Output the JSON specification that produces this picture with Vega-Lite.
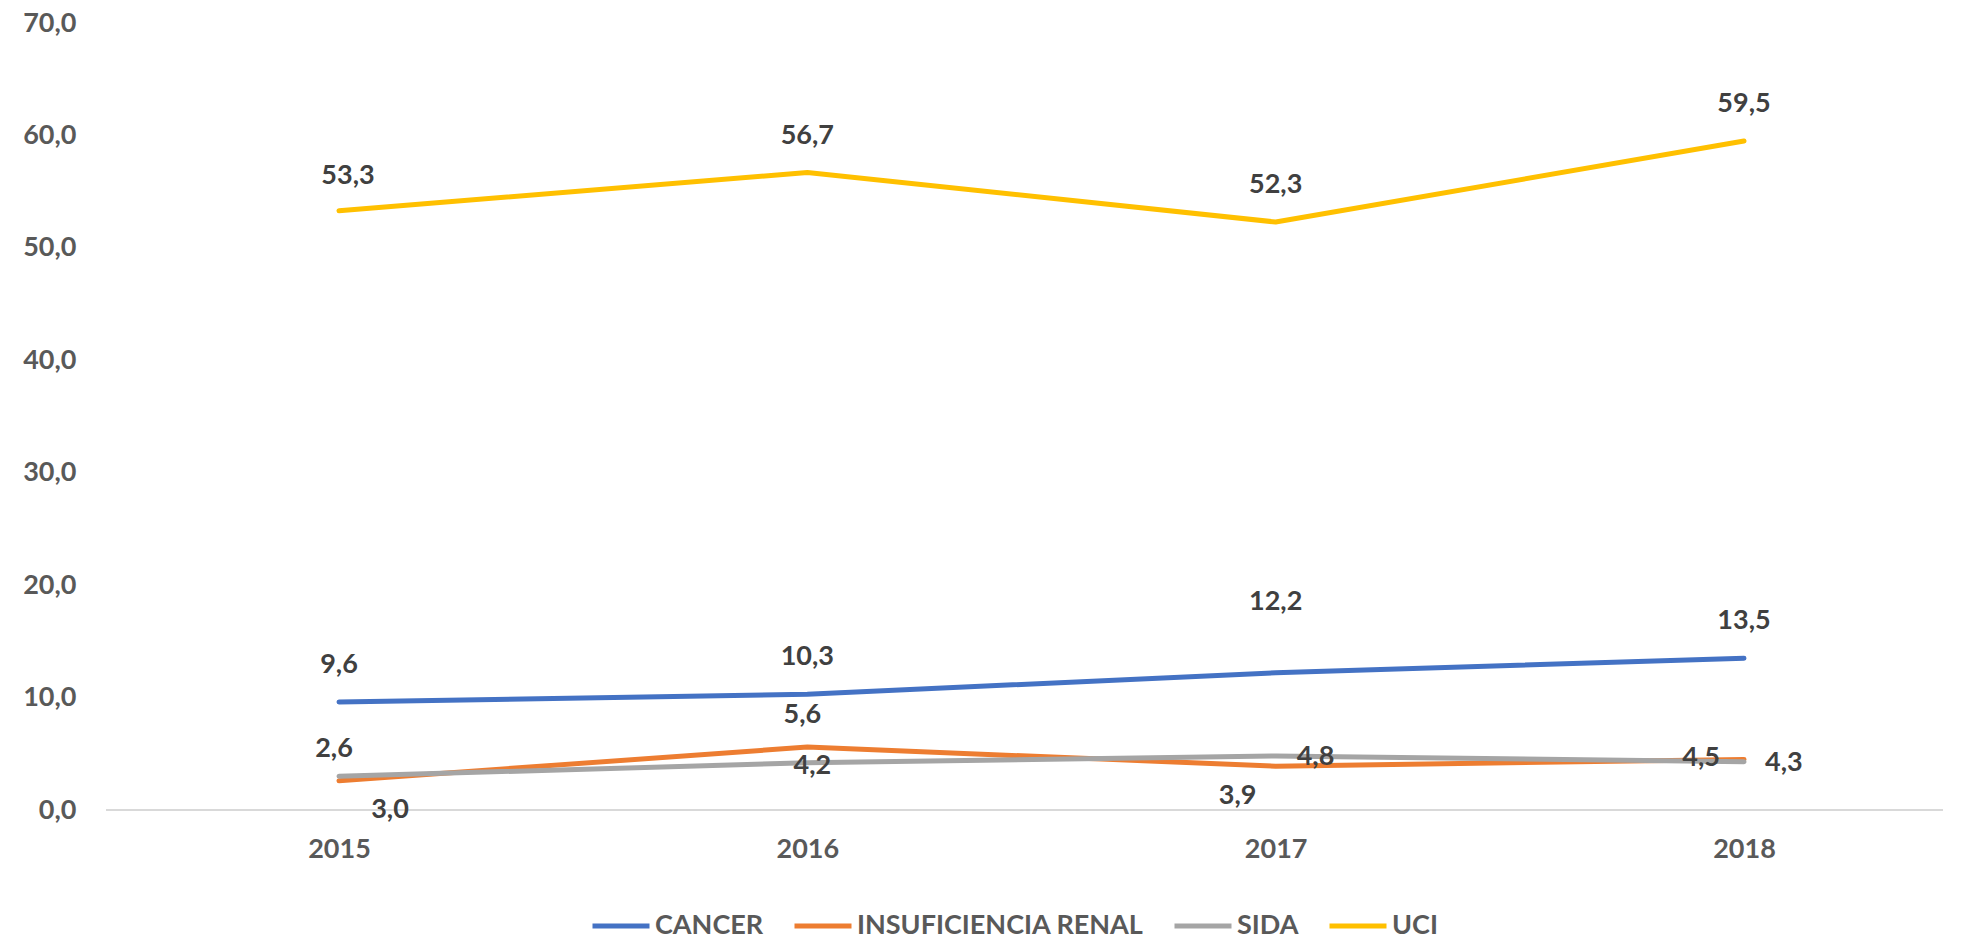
{
  "$schema": "https://vega.github.io/schema/vega-lite/v6.json",
  "width": 1837,
  "height": 787,
  "autosize": {"type": "none"},
  "padding": {"left": 106, "top": 23, "right": 23, "bottom": 130},
  "background": "white",
  "config": {
    "locale": {"number": {"decimal": ",", "thousands": ".", "grouping": [3], "currency": ["", " €"]}},
    "view": {"stroke": null},
    "font": "Lato",
    "text": {"font": "Lato", "fontSize": 27, "fontWeight": "bold", "color": "#404040", "baseline": "middle"}
  },
  "data": {
    "values": [
      {"series": "CANCER", "year": "2015", "value": 9.6},
      {"series": "CANCER", "year": "2016", "value": 10.3},
      {"series": "CANCER", "year": "2017", "value": 12.2},
      {"series": "CANCER", "year": "2018", "value": 13.5},
      {"series": "INSUFICIENCIA RENAL", "year": "2015", "value": 2.6},
      {"series": "INSUFICIENCIA RENAL", "year": "2016", "value": 5.6},
      {"series": "INSUFICIENCIA RENAL", "year": "2017", "value": 3.9},
      {"series": "INSUFICIENCIA RENAL", "year": "2018", "value": 4.5},
      {"series": "SIDA", "year": "2015", "value": 3.0},
      {"series": "SIDA", "year": "2016", "value": 4.2},
      {"series": "SIDA", "year": "2017", "value": 4.8},
      {"series": "SIDA", "year": "2018", "value": 4.3},
      {"series": "UCI", "year": "2015", "value": 53.3},
      {"series": "UCI", "year": "2016", "value": 56.7},
      {"series": "UCI", "year": "2017", "value": 52.3},
      {"series": "UCI", "year": "2018", "value": 59.5}
    ]
  },
  "encoding": {
    "y": {
      "field": "value", "type": "quantitative",
      "scale": {"domain": [0, 70], "nice": false},
      "axis": {
        "title": null, "grid": false, "domain": false, "ticks": false,
        "values": [0, 10, 20, 30, 40, 50, 60, 70], "format": ".1f",
        "labelFont": "Lato", "labelFontSize": 27, "labelFontWeight": "bold",
        "labelColor": "#595959", "labelPadding": 30
      }
    }
  },
  "layer": [
    {
      "mark": {"type": "rule", "color": "#d9d9d9", "strokeWidth": 2},
      "encoding": {"y": {"datum": 0}}
    },
    {
      "mark": {"type": "line", "strokeWidth": 5, "strokeCap": "round", "strokeJoin": "round"},
      "encoding": {
        "x": {
          "field": "year", "type": "ordinal",
          "scale": {"type": "point", "range": [233, 1638], "padding": 0},
          "axis": {
            "title": null, "labelAngle": 0, "domain": false,
            "ticks": false, "grid": false, "labelFont": "Lato", "labelFontSize": 27,
            "labelFontWeight": "bold", "labelColor": "#595959", "labelPadding": 26
          }
        },
        "color": {
          "field": "series", "type": "nominal",
          "scale": {
            "domain": ["CANCER", "INSUFICIENCIA RENAL", "SIDA", "UCI"],
            "range": ["#4472C4", "#ED7D31", "#A5A5A5", "#FFC000"]
          },
          "legend": {
            "orient": "none", "legendX": 484, "legendY": 872, "direction": "horizontal",
            "columns": 4, "title": null, "symbolType": "stroke", "symbolSize": 3249,
            "symbolStrokeWidth": 5, "labelFont": "Lato", "labelFontSize": 27,
            "labelFontWeight": "bold", "labelColor": "#595959", "labelOffset": 3,
            "labelLimit": 500, "columnPadding": 20
          }
        }
      }
    },
    {
      "transform": [{"filter": "(datum.series == 'CANCER' && datum.year != '2017') || (datum.series == 'UCI' && datum.year != '2015')"}],
      "mark": {"type": "text", "dy": -37},
      "encoding": {"x": {"field": "year", "type": "ordinal"}, "text": {"field": "value", "type": "quantitative", "format": ".1f"}}
    },
    {
      "transform": [{"filter": "datum.series == 'UCI' && datum.year == '2015'"}],
      "mark": {"type": "text", "dy": -35, "dx": 9},
      "encoding": {"x": {"field": "year", "type": "ordinal"}, "text": {"field": "value", "type": "quantitative", "format": ".1f"}}
    },
    {
      "transform": [{"filter": "datum.series == 'CANCER' && datum.year == '2017'"}],
      "mark": {"type": "text", "dy": -71},
      "encoding": {"x": {"field": "year", "type": "ordinal"}, "text": {"field": "value", "type": "quantitative", "format": ".1f"}}
    },
    {
      "transform": [{"filter": "datum.series == 'INSUFICIENCIA RENAL' && (datum.year == '2015' || datum.year == '2016')"}],
      "mark": {"type": "text", "dy": -32, "dx": -5},
      "encoding": {"x": {"field": "year", "type": "ordinal"}, "text": {"field": "value", "type": "quantitative", "format": ".1f"}}
    },
    {
      "transform": [{"filter": "datum.series == 'INSUFICIENCIA RENAL' && datum.year == '2017'"}],
      "mark": {"type": "text", "dy": 30, "dx": -38},
      "encoding": {"x": {"field": "year", "type": "ordinal"}, "text": {"field": "value", "type": "quantitative", "format": ".1f"}}
    },
    {
      "transform": [{"filter": "datum.series == 'INSUFICIENCIA RENAL' && datum.year == '2018'"}],
      "mark": {"type": "text", "dy": -1, "dx": -24, "align": "right"},
      "encoding": {"x": {"field": "year", "type": "ordinal"}, "text": {"field": "value", "type": "quantitative", "format": ".1f"}}
    },
    {
      "transform": [{"filter": "datum.series == 'SIDA' && datum.year == '2016'"}],
      "mark": {"type": "text", "dy": 3, "dx": 5},
      "encoding": {"x": {"field": "year", "type": "ordinal"}, "text": {"field": "value", "type": "quantitative", "format": ".1f"}}
    },
    {
      "transform": [{"filter": "datum.series == 'SIDA' && (datum.year == '2017' || datum.year == '2018')"}],
      "mark": {"type": "text", "dy": 1, "dx": 21, "align": "left"},
      "encoding": {"x": {"field": "year", "type": "ordinal"}, "text": {"field": "value", "type": "quantitative", "format": ".1f"}}
    },
    {
      "transform": [{"filter": "datum.series == 'SIDA' && datum.year == '2015'"}],
      "mark": {"type": "text", "dy": 34, "dx": 51},
      "encoding": {"x": {"field": "year", "type": "ordinal"}, "text": {"field": "value", "type": "quantitative", "format": ".1f"}}
    }
  ]
}
